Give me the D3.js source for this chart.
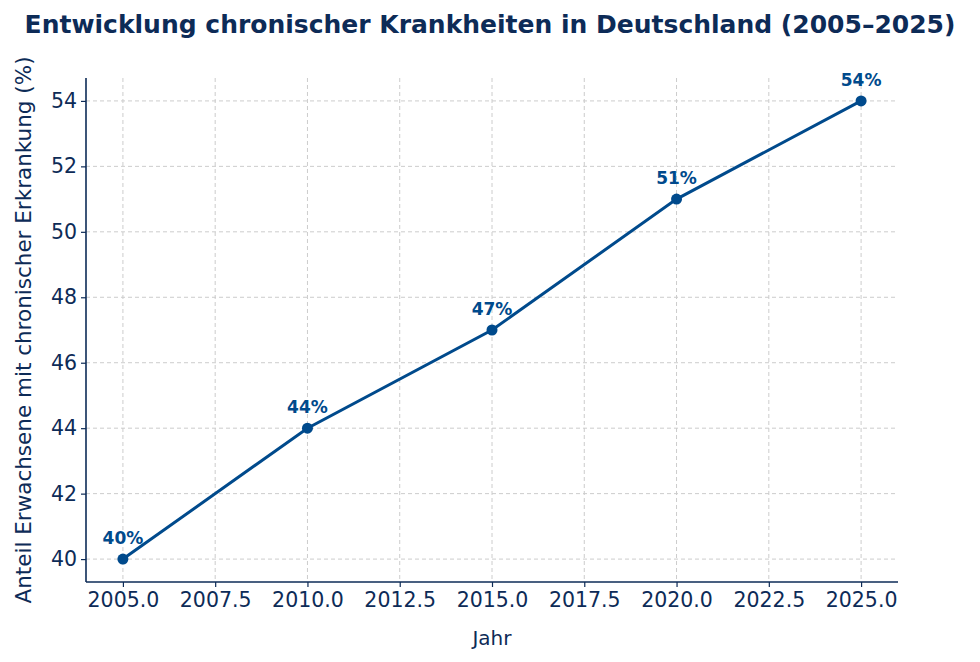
<!DOCTYPE html>
<html>
<head>
<meta charset="utf-8">
<script src="https://cdn.jsdelivr.net/npm/d3@7"></script>
<style>
  body { margin: 0; background: #fff; }
  text { font-family: "DejaVu Sans", sans-serif; }
</style>
</head>
<body>
<svg id="chart" width="980" height="662"></svg>
<script>
// Data
const years = [2005, 2010, 2015, 2020, 2025];
const shares = [40, 44, 47, 51, 54];
const xTicks = [2005, 2007.5, 2010, 2012.5, 2015, 2017.5, 2020, 2022.5, 2025];
const yTicks = [40, 42, 44, 46, 48, 50, 52, 54];

const navy = "#0d2b57";
const lineColor = "#004a8c";

const svg = d3.select("#chart");
const margin = { left: 86, right: 82, top: 78, bottom: 80 };
const width = 980 - margin.left - margin.right;
const height = 662 - margin.top - margin.bottom;

const x = d3.scaleLinear().domain([2004, 2026]).range([margin.left, margin.left + width]);
const y = d3.scaleLinear().domain([39.3, 54.7]).range([margin.top + height, margin.top]);

// Grid
const grid = svg.append("g");
grid.selectAll(".gx").data(xTicks).enter().append("line")
  .attr("x1", (d) => x(d)).attr("x2", (d) => x(d))
  .attr("y1", margin.top).attr("y2", margin.top + height)
  .attr("stroke", "#cccccc").attr("stroke-dasharray", "4,3").attr("stroke-width", 1);
grid.selectAll(".gy").data(yTicks).enter().append("line")
  .attr("x1", margin.left).attr("x2", margin.left + width)
  .attr("y1", (d) => y(d)).attr("y2", (d) => y(d))
  .attr("stroke", "#cccccc").attr("stroke-dasharray", "4,3").attr("stroke-width", 1);

// Axes
const xAxis = svg.append("g")
  .attr("transform", `translate(0,${margin.top + height})`)
  .call(d3.axisBottom(x).tickValues(xTicks).tickFormat(d3.format(".1f")).tickSize(5).tickPadding(5));
const yAxis = svg.append("g")
  .attr("transform", `translate(${margin.left},0)`)
  .call(d3.axisLeft(y).tickValues(yTicks).tickSize(5).tickPadding(4));

[xAxis, yAxis].forEach((g) => {
  g.select(".domain").attr("stroke", navy).attr("stroke-width", 1.6);
  g.selectAll(".tick line").attr("stroke", navy).attr("stroke-width", 1.2);
  g.selectAll(".tick text").attr("fill", navy).style("font-size", "20.5px")
    .style("font-family", "DejaVu Sans, sans-serif");
});
xAxis.select(".domain").attr("d", `M${margin.left},0H${margin.left + width}`);
yAxis.select(".domain").attr("d", `M0,${margin.top + height}V${margin.top}`);

// Line
const pts = years.map((yr, i) => ({ yr, v: shares[i] }));
svg.append("path").datum(pts)
  .attr("fill", "none").attr("stroke", lineColor).attr("stroke-width", 3)
  .attr("d", d3.line().x((d) => x(d.yr)).y((d) => y(d.v)));

svg.selectAll(".pt").data(pts).enter().append("circle")
  .attr("cx", (d) => x(d.yr)).attr("cy", (d) => y(d.v)).attr("r", 5.5)
  .attr("fill", lineColor);

svg.selectAll(".lbl").data(pts).enter().append("text")
  .attr("x", (d) => x(d.yr)).attr("y", (d) => y(d.v) - 15)
  .attr("text-anchor", "middle")
  .attr("fill", lineColor).style("font-size", "17px").style("font-weight", "bold")
  .text((d) => `${d.v}%`);

// Titles
svg.append("text").attr("x", 490).attr("y", 33).attr("text-anchor", "middle")
  .attr("fill", navy).style("font-size", "25px").style("font-weight", "bold")
  .text("Entwicklung chronischer Krankheiten in Deutschland (2005–2025)");

svg.append("text").attr("x", x(2015)).attr("y", 645).attr("text-anchor", "middle")
  .attr("fill", navy).style("font-size", "20px").text("Jahr");

svg.append("text")
  .attr("transform", `translate(31,${margin.top + height / 2}) rotate(-90)`)
  .attr("text-anchor", "middle")
  .attr("fill", navy).style("font-size", "21.5px")
  .text("Anteil Erwachsene mit chronischer Erkrankung (%)");
</script>
</body>
</html>
